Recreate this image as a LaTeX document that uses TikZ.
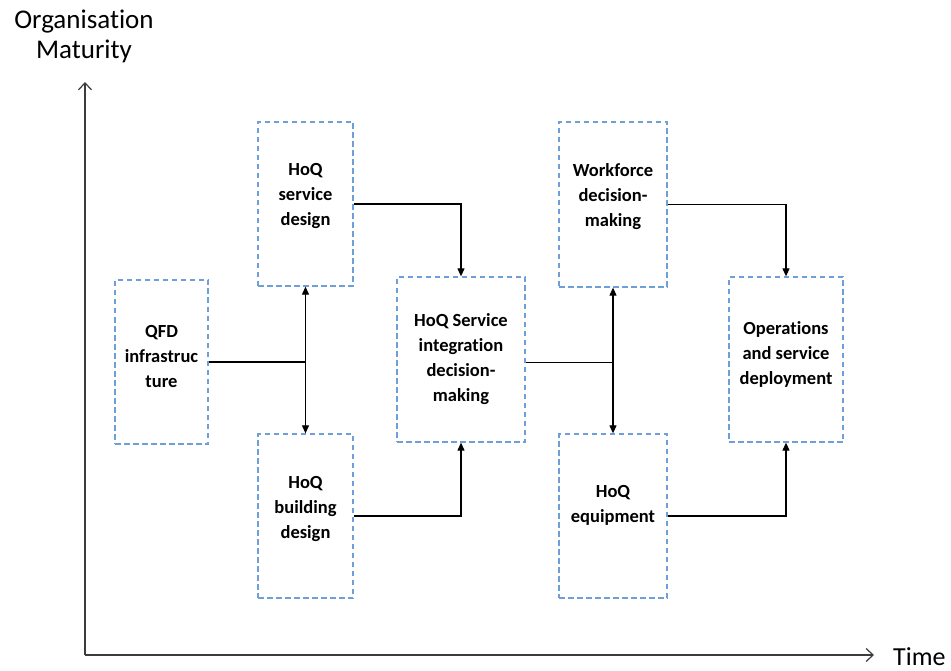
\documentclass[tikz,border=0pt]{standalone}
\usepackage{fontspec}
\setmainfont[Ligatures={NoCommon}]{Carlito}
\usetikzlibrary{arrows.meta}
\definecolor{boxblue}{RGB}{110,160,215}
\definecolor{axisgray}{RGB}{60,60,60}
\tikzset{
  stagebox/.style={draw=boxblue, line width=1.3pt, dash pattern=on 5.5pt off 3.5pt,
    minimum width=#1, inner sep=0pt},
  stagetext/.style={align=center, inner sep=0pt,
    font=\fontsize{18.5}{25}\selectfont\bfseries},
  link/.style={draw=black, line width=1.1pt, -{Triangle[length=8pt,width=7pt]}},
  twoway/.style={draw=black, line width=1.1pt, {Triangle[length=8pt,width=7pt]}-{Triangle[length=8pt,width=7pt]}},
  plain/.style={draw=black, line width=1.1pt},
  axis/.style={draw=axisgray, line width=1.2pt, -{Straight Barb[length=7pt,width=13pt]}},
  axislabel/.style={font=\fontsize{27}{30}\selectfont, align=center, inner sep=0pt}
}
\begin{document}
\begin{tikzpicture}[x=1pt,y=-1pt]
\useasboundingbox (0,0) rectangle (951,671);

% axes
\coordinate (origin) at (85,655);
\coordinate (ytop) at (85,82);
\coordinate (xend) at (874,655);
\draw[axis] (origin) -- (ytop);
\draw[axis] (origin) -- (xend);
\node[axislabel] (ylab) at (84,36) {Organisation\\Maturity};
\node[axislabel, anchor=base west, font=\fontsize{26}{30}\selectfont] (xlab) at (893,665) {Time};

% stages
\node[stagebox=93pt, minimum height=164pt] (qfd) at (161.5,362) {};
\node[stagebox=95pt, minimum height=164pt] (sdes) at (305.5,204) {};
\node[stagebox=95pt, minimum height=164pt] (bdes) at (305.5,516) {};
\node[stagebox=128pt, minimum height=165pt] (integ) at (461,359.5) {};
\node[stagebox=108pt, minimum height=165pt] (work) at (613,204.5) {};
\node[stagebox=108pt, minimum height=164pt] (equip) at (613,516) {};
\node[stagebox=114pt, minimum height=165pt] (ops) at (786,359.5) {};

% stage captions
\node[stagetext] (qfdt) at ([yshift=5pt]qfd.center) {QFD\\infrastruc\\ture};
\node[stagetext] (sdest) at ([yshift=8pt]sdes.center) {HoQ\\service\\design};
\node[stagetext] (bdest) at ([yshift=7pt]bdes.center) {HoQ\\building\\design};
\node[stagetext] (integt) at (integ.center) {HoQ Service\\integration\\decision-\\making};
\node[stagetext] (workt) at ([yshift=8pt]work.center) {Workforce\\decision-\\making};
\node[stagetext] (equipt) at ([yshift=11pt]equip.center) {HoQ\\equipment};
\node[stagetext] (opst) at ([yshift=5pt]ops.center) {Operations\\and service\\deployment};

% junctions on the vertical links
\coordinate (j1) at (sdes.south |- qfd.east);
\coordinate (j2) at (work.south |- integ.east);

% connectors
\draw[plain] (qfd.east) -- (j1);
\draw[twoway] (sdes.south) -- (bdes.north);
\draw[link] (sdes.east) -| (integ.north);
\draw[link] (bdes.east) -| (integ.south);
\draw[plain] ([yshift=-3pt]integ.east) -- ([yshift=-3pt]j2);
\draw[twoway] (work.south) -- (equip.north);
\draw[link] (work.east) -| (ops.north);
\draw[link] (equip.east) -| (ops.south);
\end{tikzpicture}
\end{document}
